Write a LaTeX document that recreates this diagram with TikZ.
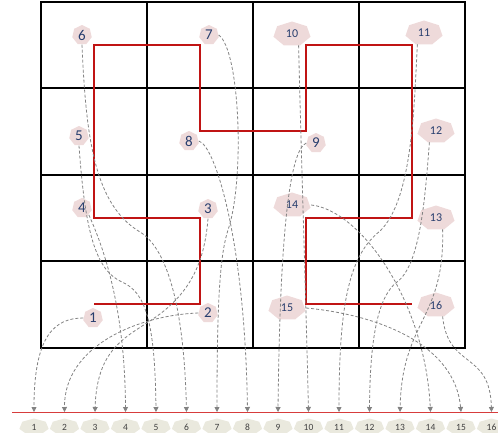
\documentclass[tikz,border=0pt]{standalone}
\usepackage{fontspec}
\setmainfont{Carlito}
\usetikzlibrary{arrows.meta,shapes.geometric,backgrounds}

\definecolor{curvered}{RGB}{192,20,20}
\definecolor{axisred}{RGB}{215,60,60}
\definecolor{tagpink}{RGB}{238,218,218}
\definecolor{tagbeige}{RGB}{234,233,222}
\definecolor{tagblue}{RGB}{40,62,110}
\definecolor{dashgray}{RGB}{130,130,130}

\tikzset{
  cell/.style={line width=1.3pt, black},
  hilbert/.style={line width=1.4pt, curvered},
  small tag/.style={circle, minimum size=19pt, inner sep=0pt, text=tagblue, font=\fontsize{15}{15}\selectfont},
  big tag/.style={ellipse, minimum width=38pt, minimum height=24pt, inner sep=0pt, text=tagblue, font=\fontsize{12}{12}\selectfont},
  slot tag/.style={inner sep=0pt, text=black!75, font=\fontsize{9.5}{9.5}\selectfont},
  link/.style={dashgray, line width=0.8pt, dash pattern=on 3pt off 2pt, -{Triangle[length=5pt,width=5pt]}}
}

% heptagon behind a tag: node, x radius, y radius, colour
\newcommand{\heptagon}[4]{%
  \fill[#4, shift={(#1)}] plot[samples=8, domain=0:360] ({#2*sin(\x+180/7)}, {#3*cos(\x+180/7)}) -- cycle;}

\begin{document}
\begin{tikzpicture}[x=1pt, y=-1pt]
  \useasboundingbox (0,0) rectangle (498,432);

  % grid
  \draw[cell] (41,2) rectangle (465,348);
  \foreach \gx in {147,253,359} \draw[cell] (\gx,2) -- (\gx,348);
  \foreach \gy in {88,175,261} \draw[cell] (41,\gy) -- (465,\gy);

  % curve through the cell centres
  \draw[hilbert] (94,304) -- (200,304) -- (200,218) -- (94,218) -- (94,45)
    -- (200,45) -- (200,131) -- (306,131) -- (306,45) -- (412,45)
    -- (412,218) -- (306,218) -- (306,304) -- (412,304);

  % cell tags
  \foreach \n/\px/\py in {1/93/318, 2/208/313, 3/208/209, 4/82/208, 5/79/136,
      6/82/35, 7/209/35, 8/189/141, 9/316/143}
    \node[small tag] (n\n) at (\px,\py) {\n};
  \foreach \n/\px/\py in {10/292/34, 11/424/33, 12/436/131, 13/436/218,
      14/292/205, 15/287/308, 16/436/305}
    \node[big tag] (n\n) at (\px,\py) {\n};

  % line of slots
  \draw[line width=1pt, axisred] (12,412) -- (498,412);
  \foreach \i in {1,...,16} {
    \coordinate (b\i) at ({34+30.5*(\i-1)},412);
    \node[slot tag] (t\i) at ({34+30.5*(\i-1)},427) {\i};
  }

  \begin{scope}[on background layer]
    \foreach \n in {1,...,9} \heptagon{n\n}{10}{10}{tagpink};
    \foreach \n in {10,...,16} \heptagon{n\n}{19}{12.5}{tagpink};
    \foreach \i in {1,...,16} \heptagon{t\i}{15}{8.5}{tagbeige};
  \end{scope}

  \draw[link] (n1.west) .. controls (55,318) and (34,335) .. (b1);
  \draw[link] (n2.west) .. controls (140,315) and (64,345) .. (b2);
  \draw[link] (n3.south) .. controls (205,255) and (195,285) .. (165,310)
    .. controls (135,335) and (97,340) .. (b3);
  \draw[link] (n4.-45) .. controls (100,240) and (125,300) .. (b4);
  \draw[link] (n5.south) .. controls (85,230) and (95,270) .. (122,282)
    .. controls (145,292) and (155,320) .. (b5);
  \draw[link] (n6.south) .. controls (86,140) and (95,205) .. (140,232)
    .. controls (165,247) and (184,300) .. (b6);
  \draw[link] (n7.east) .. controls (240,50) and (245,180) .. (228,230)
    .. controls (220,255) and (217,300) .. (b7);
  \draw[link] (n8.east) .. controls (215,145) and (245,240) .. (b8);
  \draw[link] (n9.west) .. controls (290,150) and (280,230) .. (b9);
  \draw[link] (n10.-60) .. controls (301,150) and (306,300) .. (b10);
  \draw[link] (n11.-120) .. controls (414,110) and (412,200) .. (380,231)
    .. controls (350,255) and (339,300) .. (b11);
  \draw[link] (n12.-120) .. controls (425,200) and (420,265) .. (397,282)
    .. controls (380,295) and (370,330) .. (b12);
  \draw[link] (n13.-60) .. controls (445,320) and (402,320) .. (b13);
  \draw[link] (n14.east) .. controls (360,210) and (425,300) .. (b14);
  \draw[link] (n15.east) .. controls (380,315) and (455,345) .. (b15);
  \draw[link] (n16.-60) .. controls (448,370) and (490,350) .. (b16);
\end{tikzpicture}
\end{document}
